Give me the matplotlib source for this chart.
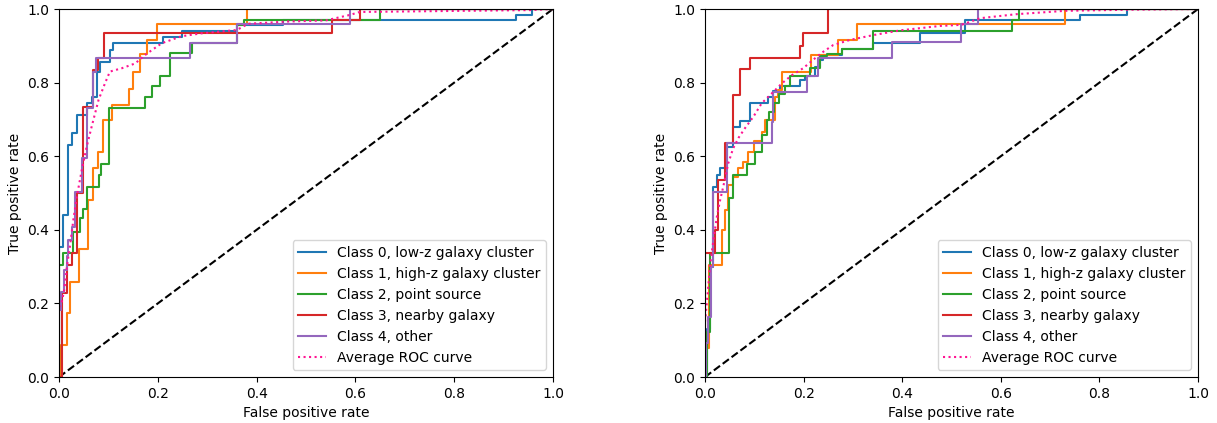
import numpy as np
import matplotlib
matplotlib.use('Agg')
import matplotlib.pyplot as plt

labels = ['Class 0, low-z galaxy cluster', 'Class 1, high-z galaxy cluster',
          'Class 2, point source', 'Class 3, nearby galaxy', 'Class 4, other']
colors = ['tab:blue', 'tab:orange', 'tab:green', 'tab:red', 'tab:purple']

# left panel: corner points of each ROC staircase (fpr, tpr)
left_fpr = [
    [0, 0, 0.008, 0.018, 0.027, 0.036, 0.056, 0.066, 0.076, 0.083, 0.103, 0.11, 0.211, 0.248, 0.36, 0.453, 0.926, 0.957, 1],
    [0, 0.005, 0.016, 0.022, 0.04, 0.059, 0.068, 0.079, 0.09, 0.107, 0.142, 0.149, 0.164, 0.178, 0.198, 0.381, 1],
    [0, 0, 0.009, 0.029, 0.043, 0.049, 0.056, 0.08, 0.085, 0.102, 0.174, 0.189, 0.204, 0.225, 0.269, 0.36, 0.375, 0.65, 1],
    [0, 0.007, 0.016, 0.027, 0.036, 0.049, 0.069, 0.078, 0.092, 0.552, 0.609, 1],
    [0, 0, 0.004, 0.011, 0.016, 0.019, 0.026, 0.032, 0.046, 0.056, 0.068, 0.074, 0.265, 0.36, 0.589, 1],
]
left_tpr = [
    [0, 0.353, 0.44, 0.63, 0.662, 0.712, 0.744, 0.76, 0.83, 0.857, 0.889, 0.907, 0.923, 0.939, 0.957, 0.969, 0.984, 1, 1],
    [0, 0.087, 0.174, 0.259, 0.348, 0.48, 0.567, 0.612, 0.698, 0.739, 0.784, 0.83, 0.879, 0.916, 0.959, 1, 1],
    [0, 0.304, 0.336, 0.395, 0.432, 0.457, 0.516, 0.549, 0.58, 0.73, 0.762, 0.79, 0.818, 0.88, 0.907, 0.957, 0.97, 1, 1],
    [0, 0.227, 0.304, 0.336, 0.5, 0.734, 0.834, 0.868, 0.935, 0.969, 1, 1],
    [0, 0.182, 0.232, 0.29, 0.33, 0.372, 0.408, 0.503, 0.595, 0.73, 0.83, 0.866, 0.908, 0.959, 1, 1],
]
left_avg_fpr = [0, 0.005, 0.011, 0.016, 0.022, 0.029, 0.036, 0.046, 0.056, 0.066, 0.08, 0.093, 0.103, 0.127,
                0.154, 0.178, 0.208, 0.248, 0.289, 0.36, 0.383, 0.464, 0.54, 0.589, 0.609, 0.953, 1]
left_avg_tpr = [0.19, 0.2, 0.24, 0.3, 0.354, 0.427, 0.49, 0.562, 0.626, 0.68, 0.753, 0.798, 0.83, 0.839,
                0.852, 0.879, 0.907, 0.926, 0.934, 0.943, 0.96, 0.966, 0.969, 0.984, 0.992, 0.997, 1]

# right panel
right_fpr = [
    [0, 0.005, 0.01, 0.017, 0.024, 0.031, 0.044, 0.057, 0.071, 0.091, 0.128, 0.137, 0.152, 0.193, 0.203, 0.223,
     0.233, 0.24, 0.277, 0.341, 0.436, 0.527, 0.761, 0.855, 1],
    [0, 0.003, 0.008, 0.034, 0.041, 0.047, 0.057, 0.067, 0.078, 0.088, 0.1, 0.115, 0.122, 0.142, 0.149, 0.156,
     0.216, 0.27, 0.308, 0.73, 1],
    [0, 0.005, 0.01, 0.049, 0.057, 0.085, 0.101, 0.115, 0.125, 0.13, 0.14, 0.15, 0.162, 0.172, 0.213, 0.233,
     0.247, 0.277, 0.341, 0.622, 0.636, 1],
    [0, 0, 0.02, 0.027, 0.041, 0.056, 0.07, 0.091, 0.193, 0.198, 0.25, 1],
    [0, 0.003, 0.006, 0.012, 0.017, 0.044, 0.135, 0.137, 0.206, 0.23, 0.379, 0.52, 0.554, 1],
]
right_tpr = [
    [0, 0.13, 0.3, 0.517, 0.549, 0.567, 0.626, 0.68, 0.696, 0.744, 0.76, 0.778, 0.79, 0.807, 0.818, 0.843,
     0.862, 0.875, 0.89, 0.907, 0.935, 0.969, 0.984, 1, 1],
    [0, 0.08, 0.304, 0.4, 0.454, 0.522, 0.544, 0.567, 0.585, 0.612, 0.64, 0.666, 0.698, 0.762, 0.78, 0.83,
     0.875, 0.916, 0.959, 1, 1],
    [0, 0.123, 0.336, 0.486, 0.549, 0.58, 0.612, 0.658, 0.698, 0.72, 0.745, 0.77, 0.79, 0.818, 0.84, 0.871,
     0.879, 0.89, 0.941, 0.97, 1, 1],
    [0, 0.336, 0.4, 0.535, 0.635, 0.766, 0.836, 0.868, 0.9, 0.935, 1, 1],
    [0, 0.092, 0.164, 0.3, 0.503, 0.637, 0.694, 0.775, 0.817, 0.866, 0.911, 0.959, 1, 1],
]
right_avg_fpr = [0, 0.005, 0.01, 0.017, 0.024, 0.03, 0.037, 0.047, 0.057, 0.068, 0.081, 0.098, 0.115, 0.135,
                 0.156, 0.176, 0.199, 0.223, 0.24, 0.26, 0.294, 0.341, 0.396, 0.477, 0.52, 0.558, 0.632,
                 0.73, 0.855, 1]
right_avg_tpr = [0.15, 0.22, 0.3, 0.372, 0.435, 0.477, 0.517, 0.58, 0.621, 0.65, 0.676, 0.707, 0.744, 0.77,
                 0.798, 0.82, 0.839, 0.866, 0.884, 0.902, 0.916, 0.929, 0.942, 0.954, 0.957, 0.975, 0.986,
                 0.995, 0.998, 1]

fig = plt.figure(figsize=(12.17, 4.23), dpi=100)
ax1 = fig.add_axes([0.0485, 0.1087, 0.4059, 0.87])
ax2 = fig.add_axes([0.5793, 0.1087, 0.4051, 0.87])

panels = [(ax1, left_fpr, left_tpr, left_avg_fpr, left_avg_tpr),
          (ax2, right_fpr, right_tpr, right_avg_fpr, right_avg_tpr)]

for ax, fprs, tprs, afpr, atpr in panels:
    ax.plot([0, 1], [0, 1], 'k--', lw=1.5)
    for i in range(len(labels)):
        ax.step(fprs[i], tprs[i], where='post', color=colors[i], lw=1.5, label=labels[i])
    ax.plot(afpr, atpr, color='deeppink', linestyle=':', lw=1.5, label='Average ROC curve')
    ax.set_xlim(0, 1)
    ax.set_ylim(0, 1)
    ax.set_xlabel('False positive rate')
    ax.set_ylabel('True positive rate')
    ax.legend(loc='lower right')

fig.savefig('out.png', dpi=100)
